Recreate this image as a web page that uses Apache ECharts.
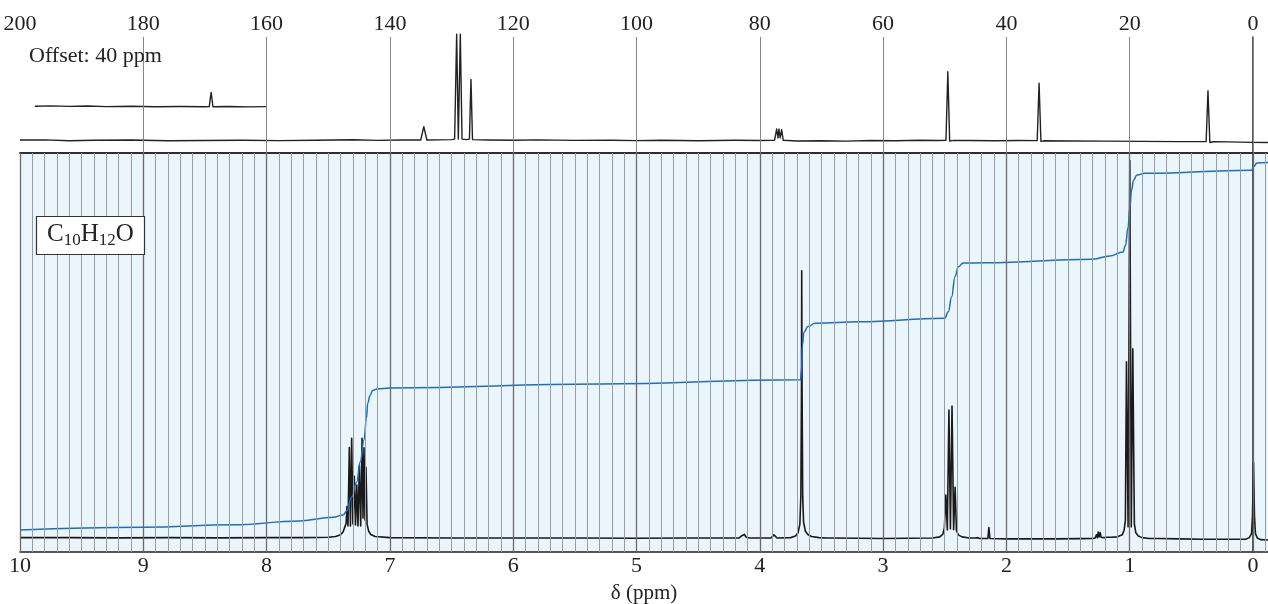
<!DOCTYPE html>
<html>
<head>
<meta charset="utf-8">
<script src="https://cdn.jsdelivr.net/npm/echarts@6/dist/echarts.min.js"></script>
<style>html,body{margin:0;padding:0;background:#fff}#c{width:1268px;height:604px}</style>
</head>
<body>
<div id="c"></div>
<script>
// ---------- data ----------
const hTickLabels = [0, 1, 2, 3, 4, 5, 6, 7, 8, 9, 10];
const cTickLabels = [0, 20, 40, 60, 80, 100, 120, 140, 160, 180, 200];
const offsetPpm = 40;
const formulaText = '{n|C}{s|10}{n|H}{s|12}{n|O}';
const offsetLabel = 'Offset: 40 ppm';
const axisTitle = 'δ (ppm)';

// 13C trace [ppm, intensity]
const c13Trace = [
  [200, 11.2], [196, 11.3], [192, 10.6], [188, 11.0], [182, 11.2], [176, 10.5], [170, 10.8],
  [164, 11.0], [158, 10.7], [152, 11.0], [146, 11.4], [142, 10.9], [138, 11.2],
  [135.0, 11.2], [134.5, 22.7], [134.0, 11.2], [132, 11.3], [130.0, 11.5], [129.5, 12],
  [129.17, 102.5], [128.9, 12], [128.58, 102.5], [128.3, 12], [127.5, 11.5], [127.1, 12],
  [126.85, 63.5], [126.6, 11.5], [124, 11.2], [120, 11.0], [116, 11.3], [110, 10.9],
  [104, 11.0], [100, 10.7], [96, 11.0], [90, 10.6], [84, 11.0], [80, 10.8], [78, 10.9],
  [77.6, 11], [77.26, 20.7], [77.05, 13], [76.89, 20.7], [76.7, 13], [76.45, 20.0], [76.2, 11],
  [74, 10.3], [70, 10.6], [66, 10.2], [62, 10.8], [58, 10.6], [54, 11.0], [51, 10.8],
  [49.8, 11], [49.5, 70.1], [49.2, 10.2], [48.6, 10.9], [46, 10.8], [42, 10.6], [38, 10.8],
  [35.0, 10.7], [34.7, 60.1], [34.4, 10.0], [33.8, 10.6], [30, 10.4], [24, 10.2], [18, 10.0],
  [12, 9.8], [7.6, 9.8], [7.3, 53.7], [7.0, 9.1], [6.4, 9.7], [4, 9.6], [0, 9.2], [-2.43, 9.0]
];

// 13C offset trace, true ppm values (drawn shifted by offsetPpm)
const c13OffsetTrace = [
  [237.6, 40.3], [235, 40.6], [232, 40.2], [229, 40.5], [226, 40.0], [222, 40.3], [218, 39.9],
  [214, 40.1], [210, 39.9], [209.3, 40.0], [209.0, 52.3], [208.7, 39.9], [206, 40.1],
  [203, 39.8], [200, 40.0]
];

// 1H trace [ppm, intensity]
const h1Trace = [
  [10.0, 3.6], [9.6, 3.6], [9.2, 3.55], [8.8, 3.6], [8.4, 3.55], [8.0, 3.6], [7.7, 3.6],
  [7.5, 3.7], [7.44, 3.9], [7.40, 4.3], [7.38, 5.0], [7.365, 6.3], [7.355, 7.2],
  [7.348, 11.4], [7.340, 6.5], [7.329, 26.2], [7.320, 6.5], [7.310, 28.5], [7.300, 7.0],
  [7.289, 19.0], [7.279, 6.8], [7.269, 16.8], [7.259, 6.5], [7.248, 21.6], [7.237, 6.5],
  [7.226, 28.5], [7.218, 8.5], [7.210, 26.1], [7.202, 8.0], [7.194, 21.2], [7.185, 7.0],
  [7.172, 5.2], [7.155, 4.4], [7.12, 3.9], [7.0, 3.6], [6.5, 3.5], [6.0, 3.5], [5.5, 3.5],
  [5.0, 3.45], [4.6, 3.5], [4.50, 3.5], [4.485, 3.9], [4.47, 3.5], [4.17, 3.5], [4.15, 4.0],
  [4.14, 3.7], [4.125, 4.4], [4.11, 3.7], [4.10, 4.0], [4.08, 3.5], [3.91, 3.5], [3.885, 4.3],
  [3.86, 3.5], [3.75, 3.6], [3.71, 4.0], [3.69, 4.8], [3.675, 7], [3.667, 14], [3.662, 40],
  [3.660, 70.5], [3.657, 40], [3.652, 14], [3.645, 7.5], [3.63, 5.2], [3.61, 4.4], [3.58, 3.9],
  [3.52, 3.6], [3.46, 3.5], [3.445, 3.9], [3.43, 3.5], [3.2, 3.45], [3.0, 3.4], [2.8, 3.45],
  [2.6, 3.5], [2.54, 3.8], [2.515, 4.5], [2.503, 6], [2.491, 14.3], [2.479, 5.5], [2.466, 35.6],
  [2.454, 5.8], [2.441, 36.6], [2.428, 5.6], [2.416, 16.2], [2.405, 5.4], [2.39, 4.3],
  [2.36, 3.8], [2.30, 3.5], [2.25, 3.5], [2.24, 3.9], [2.232, 3.6], [2.225, 3.9], [2.215, 3.4],
  [2.15, 3.4], [2.142, 6.1], [2.134, 3.4], [2.0, 3.3], [1.8, 3.3], [1.6, 3.3], [1.4, 3.35],
  [1.30, 3.4], [1.28, 3.5], [1.27, 4.3], [1.262, 3.6], [1.255, 5.0], [1.248, 3.8], [1.240, 4.9],
  [1.232, 3.7], [1.224, 4.2], [1.21, 3.6], [1.18, 3.7], [1.15, 3.7], [1.10, 3.8], [1.06, 4.3],
  [1.045, 5.5], [1.035, 8], [1.026, 47.7], [1.013, 6.3], [0.999, 98.1], [0.987, 6.3],
  [0.975, 50.9], [0.962, 7], [0.95, 4.8], [0.93, 4.0], [0.90, 3.6], [0.84, 3.4], [0.785, 3.4],
  [0.775, 3.8], [0.765, 3.4], [0.6, 3.3], [0.4, 3.2], [0.2, 3.2], [0.06, 3.2], [0.03, 3.6],
  [0.012, 4.6], [0.004, 9], [-0.004, 22.4], [-0.012, 9], [-0.02, 4.6], [-0.035, 3.5],
  [-0.06, 3.1], [-0.1217, 3.0]
];

// 1H integral trace [ppm, level]
const h1Integral = [
  [10.0, 5.5], [9.0, 6.2], [8.27, 6.8], [7.73, 7.8], [7.46, 8.7], [7.38, 9.3], [7.35, 10.3],
  [7.31, 13.8], [7.27, 17.5], [7.24, 22.6], [7.21, 28.1], [7.19, 33.6], [7.18, 37.3],
  [7.16, 39.3], [7.14, 40.5], [7.10, 40.9], [7.00, 41.1], [5.30, 42.1], [3.67, 43.2],
  [3.662, 45.6], [3.654, 51.9], [3.642, 55.1], [3.609, 56.5], [3.552, 57.3], [3.19, 57.7],
  [2.50, 58.6], [2.471, 60.2], [2.444, 64.0], [2.417, 69.0], [2.390, 71.5], [2.350, 72.4],
  [2.17, 72.5], [1.30, 73.4], [1.16, 74.2], [1.054, 75.2], [1.034, 76.9], [1.014, 81.2],
  [0.998, 86.5], [0.985, 90.7], [0.969, 93.2], [0.941, 94.5], [0.876, 94.9], [0.012, 95.7],
  [-0.008, 96.7], [-0.032, 97.5], [-0.1217, 97.6]
];

// ---------- layout / style ----------
const SERIF = 'Liberation Serif';
const INK = '#222';
const hMin = -0.1217, hMax = 10;
const cMin = hMin * 20, cMax = 200;

const hGridLines = [];
for (let i = -1; i <= 100; i++) {
  const v = i / 10;
  const major = i % 10 === 0;
  hGridLines.push({ xAxis: v, lineStyle: { color: major ? '#6a6a6a' : '#979da3', width: major ? 1.3 : 1, type: 'solid' } });
}
const cGridLines = cTickLabels.filter(v => v < 200).map(v => ({ xAxis: v }));

const offsetDrawn = c13OffsetTrace.map(p => [p[0] - offsetPpm, p[1]]);

const chart = echarts.init(document.getElementById('c'), null, { renderer: 'canvas' });
chart.setOption({
  animation: false,
  backgroundColor: '#fff',
  title: [
    {
      text: offsetLabel, left: 29, top: 45, padding: 0,
      textStyle: { fontFamily: SERIF, fontSize: 22, fontWeight: 'normal', color: INK }
    },
    {
      text: formulaText, left: 36, top: 214,
      backgroundColor: '#fff', borderColor: '#333', borderWidth: 1.2,
      padding: [5, 11, 6, 11],
      textStyle: {
        fontWeight: 'normal',
        rich: {
          n: { fontFamily: SERIF, fontSize: 25, fontWeight: 'normal', color: INK, lineHeight: 30, verticalAlign: 'middle' },
          s: { fontFamily: SERIF, fontSize: 17, fontWeight: 'normal', color: INK, lineHeight: 17, verticalAlign: 'bottom' }
        }
      }
    }
  ],
  grid: [
    { left: 20, right: 0, top: 37, height: 116, show: false, outerBoundsMode: 'none', containLabel: false },
    { left: 20, right: 0, top: 153, height: 399, show: true, backgroundColor: '#ebf5fc', borderWidth: 0, outerBoundsMode: 'none', containLabel: false }
  ],
  xAxis: [
    {
      gridIndex: 0, type: 'value', position: 'top', inverse: true, min: cMin, max: cMax,
      axisLine: { show: true, lineStyle: { color: INK, width: 1.5 } },
      axisTick: { show: false }, splitLine: { show: false },
      axisLabel: { customValues: cTickLabels, fontFamily: SERIF, fontSize: 22, color: INK, margin: 2 }
    },
    {
      gridIndex: 1, type: 'value', position: 'bottom', inverse: true, min: hMin, max: hMax,
      name: axisTitle, nameLocation: 'middle', nameGap: 31,
      nameTextStyle: { fontFamily: SERIF, fontSize: 21, color: INK },
      axisLine: { show: true, lineStyle: { color: INK, width: 1.5 } },
      axisTick: { show: false }, splitLine: { show: false },
      axisLabel: { customValues: hTickLabels, fontFamily: SERIF, fontSize: 22, color: INK, margin: 3 }
    },
    {
      gridIndex: 0, type: 'value', position: 'bottom', inverse: true, min: cMin, max: cMax,
      axisLine: { show: true, lineStyle: { color: INK, width: 1.5 } },
      axisTick: { show: false }, splitLine: { show: false }, axisLabel: { show: false }
    }
  ],
  yAxis: [
    {
      gridIndex: 0, type: 'value', min: 0, max: 100,
      axisLine: { show: true, lineStyle: { color: INK, width: 1.5 } },
      axisTick: { show: false }, axisLabel: { show: false }, splitLine: { show: false }
    },
    {
      gridIndex: 1, type: 'value', min: 0, max: 100,
      axisLine: { show: true, lineStyle: { color: INK, width: 1.5 } },
      axisTick: { show: false }, axisLabel: { show: false }, splitLine: { show: false }
    }
  ],
  series: [
    {
      name: 'cgrid', type: 'line', xAxisIndex: 0, yAxisIndex: 0, z: 1,
      data: [[100, -50]], symbol: 'none', lineStyle: { opacity: 0 }, silent: true,
      markLine: {
        silent: true, symbol: ['none', 'none'], label: { show: false },
        lineStyle: { color: '#858585', width: 1, type: 'solid' },
        data: cGridLines
      }
    },
    {
      name: 'hgrid', type: 'line', xAxisIndex: 1, yAxisIndex: 1, z: 1,
      data: [[5, -50]], symbol: 'none', lineStyle: { opacity: 0 }, silent: true,
      markLine: {
        silent: true, symbol: ['none', 'none'], label: { show: false },
        data: hGridLines
      }
    },
    {
      name: 'c13', type: 'line', xAxisIndex: 0, yAxisIndex: 0, z: 3, clip: false,
      data: c13Trace, symbol: 'none',
      lineStyle: { color: INK, width: 1.4, join: 'round' }
    },
    {
      name: 'c13off', type: 'line', xAxisIndex: 0, yAxisIndex: 0, z: 3,
      data: offsetDrawn, symbol: 'none',
      lineStyle: { color: INK, width: 1.4, join: 'round' }
    },
    {
      name: 'h1', type: 'line', xAxisIndex: 1, yAxisIndex: 1, z: 3,
      data: h1Trace, symbol: 'none',
      lineStyle: { color: '#1a1a1a', width: 1.6, join: 'round' }
    },
    {
      name: 'integral', type: 'line', xAxisIndex: 1, yAxisIndex: 1, z: 4,
      data: h1Integral, symbol: 'none', smooth: 0.45, smoothMonotone: 'x',
      lineStyle: { color: '#1b6ec2', width: 1.5 }
    }
  ]
});
</script>
</body>
</html>
